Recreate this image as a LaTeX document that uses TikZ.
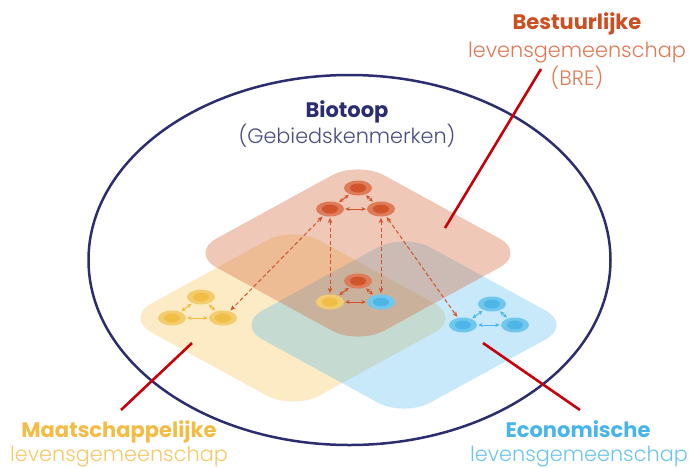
\documentclass[tikz,border=0pt]{standalone}
\usepackage{fontspec}
\setmainfont{Poppins}
\newfontfamily\lightfont{Poppins Light}
\usetikzlibrary{shapes.geometric,arrows.meta}
\definecolor{navy}{HTML}{2B2D6E}
\definecolor{navylight}{HTML}{4A4C82}
\definecolor{redline}{HTML}{C8000A}
\definecolor{redbase}{HTML}{D4693F}
\definecolor{yelbase}{HTML}{F7C65A}
\definecolor{blubase}{HTML}{55BDEE}
\definecolor{rout}{HTML}{DD7C57}
\definecolor{rin}{HTML}{D0552C}
\definecolor{yout}{HTML}{F3CC6E}
\definecolor{yin}{HTML}{F0BD45}
\definecolor{bout}{HTML}{6FC7EE}
\definecolor{bin}{HTML}{4DB6E6}
\definecolor{brebold}{HTML}{CC4E21}
\definecolor{brelight}{HTML}{E07A55}
\definecolor{maabold}{HTML}{F2BC45}
\definecolor{maalight}{HTML}{F5C86A}
\definecolor{ecobold}{HTML}{48B5E8}
\definecolor{ecolight}{HTML}{6CC5EE}
\tikzset{
  nodebase/.style={ellipse, minimum width=28pt, minimum height=15pt, inner sep=0pt},
  rnode/.style={nodebase, fill=rout, path picture={\fill[rin] (path picture bounding box.center) ellipse (8pt and 4.5pt);}},
  ynode/.style={nodebase, fill=yout, path picture={\fill[yin] (path picture bounding box.center) ellipse (8pt and 4.5pt);}},
  bnode/.style={nodebase, fill=bout, path picture={\fill[bin] (path picture bounding box.center) ellipse (8pt and 4.5pt);}},
  tri/.style={{Stealth[length=4.5pt,width=4pt]}-{Stealth[length=4.5pt,width=4pt]}, line width=1pt, shorten <=1pt, shorten >=1pt},
  dasharrow/.style={{Stealth[length=5.5pt,width=4.5pt]}-{Stealth[length=5.5pt,width=4.5pt]}, line width=1pt, rin, dash pattern=on 4pt off 2.5pt, shorten <=1pt, shorten >=1pt},
  diam/.style={rounded corners=30pt},
  pointer/.style={redline, line width=2.6pt},
  boldtxt/.style={anchor=base, font=\bfseries\fontsize{21}{25}\selectfont},
  lighttxt/.style={anchor=base, font=\lightfont\fontsize{20.8}{25}\selectfont},
}
\begin{document}
\begin{tikzpicture}[x=1pt,y=-1pt]
\useasboundingbox (0,0) rectangle (689,467);
% outer ellipse
\draw[navy, line width=2.5pt] (349.5,260) ellipse (261pt and 185pt);
% layers
\fill[diam, yelbase, fill opacity=0.35] (293,226) -- (461,318) -- (293,410) -- (125,318) -- cycle;
\fill[diam, blubase, fill opacity=0.33] (404,233) -- (572,325) -- (404,417) -- (236,325) -- cycle;
\fill[diam, redbase, fill opacity=0.37] (358,161) -- (526,253) -- (358,345) -- (190,253) -- cycle;
% nodes
\node[rnode] (rt) at (358,188) {};
\node[rnode] (rl) at (330,209) {};
\node[rnode] (rr) at (381,209) {};
\node[rnode] (mr) at (358,281) {};
\node[ynode] (my) at (330,302) {};
\node[bnode] (mb) at (381,302) {};
\node[ynode] (yt) at (201,297) {};
\node[ynode] (yl) at (172,318) {};
\node[ynode] (yr) at (223,318) {};
\node[bnode] (bt) at (492,304) {};
\node[bnode] (bl) at (463,325) {};
\node[bnode] (br) at (515,325) {};
% triangle arrows
\draw[tri, rin] (rt) -- (rl);
\draw[tri, rin] (rt) -- (rr);
\draw[tri, rin] (rl) -- (rr);
\draw[tri, rin] (mr) -- (my);
\draw[tri, rin] (mr) -- (mb);
\draw[tri, rin] (my) -- (mb);
\draw[tri, yin] (yt) -- (yl);
\draw[tri, yin] (yt) -- (yr);
\draw[tri, yin] (yl) -- (yr);
\draw[tri, bin] (bt) -- (bl);
\draw[tri, bin] (bt) -- (br);
\draw[tri, bin] (bl) -- (br);
% dashed links
\draw[dasharrow] (rl) -- (my);
\draw[dasharrow] (rr) -- (mb);
\draw[dasharrow] (rl) -- (yr);
\draw[dasharrow] (rr) -- (bl);
% pointer lines
\coordinate (p1a) at (445,228); \coordinate (p1b) at (541,69);
\coordinate (p2a) at (192,343); \coordinate (p2b) at (121,410);
\coordinate (p3a) at (483,343); \coordinate (p3b) at (580,410);
\draw[pointer] (p1a) -- (p1b);
\draw[pointer] (p2a) -- (p2b);
\draw[pointer] (p3a) -- (p3b);
% texts
\node[boldtxt, text=brebold] (t1) at (577,29) {Bestuurlijke};
\node[lighttxt, text=brelight] (t2) at (577,57) {levensgemeenschap};
\node[lighttxt, text=brelight] (t3) at (577,85) {(BRE)};
\node[boldtxt, text=navy] (t4) at (347,117) {Biotoop};
\node[lighttxt, text=navylight] (t5) at (347,143) {(Gebiedskenmerken)};
\node[boldtxt, text=maabold] (t6) at (119,437) {Maatschappelijke};
\node[lighttxt, text=maalight] (t7) at (119,461) {levensgemeenschap};
\node[boldtxt, text=ecobold] (t8) at (578,437) {Economische};
\node[lighttxt, text=ecolight] (t9) at (579,461) {levensgemeenschap};
\end{tikzpicture}
\end{document}
